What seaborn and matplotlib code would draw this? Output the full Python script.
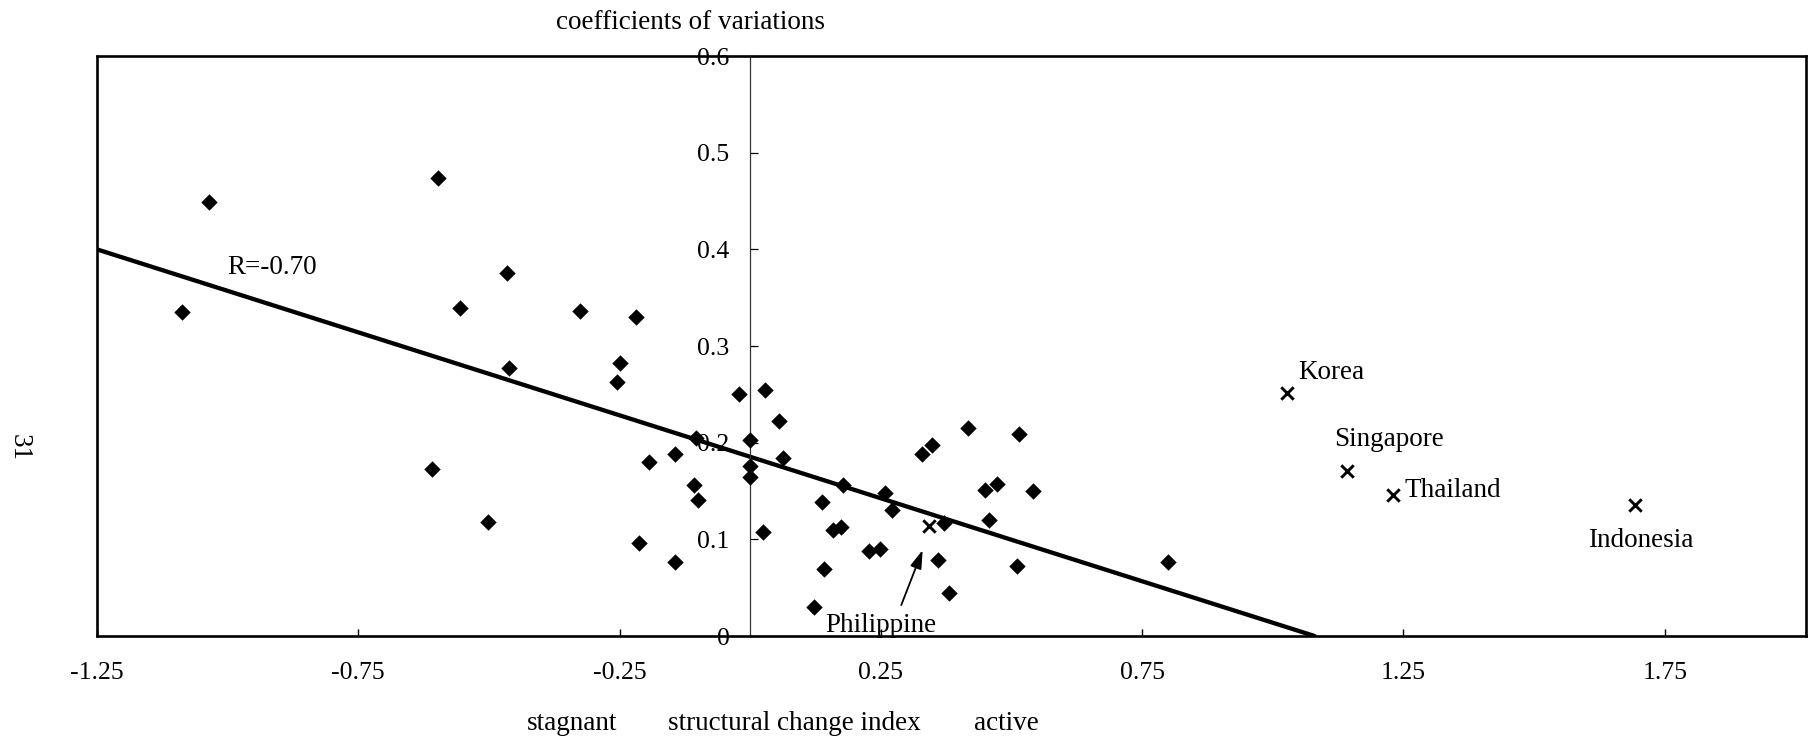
import matplotlib
matplotlib.use("Agg")
import matplotlib.pyplot as plt
import seaborn as sns

# ---------------- data ----------------
# economies plotted as diamonds: structural change index vs coefficient of variation
other_x = [-1.088, -1.035, -0.597, -0.556, -0.465, -0.462, -0.326, -0.219, -0.250, -0.254,
           -0.608, -0.501, -0.212, -0.143, -0.194, -0.143, -0.103, -0.107, -0.099, -0.021,
           0.028, 0.000, 0.000, 0.000, 0.024, 0.056, 0.062, 0.137, 0.178, 0.158,
           0.173, 0.142, 0.123, 0.227, 0.249, 0.257, 0.271, 0.328, 0.348, 0.416,
           0.370, 0.360, 0.380, 0.450, 0.472, 0.514, 0.542, 0.456, 0.510, 0.800]
other_y = [0.335, 0.449, 0.474, 0.339, 0.376, 0.277, 0.336, 0.330, 0.282, 0.263,
           0.173, 0.118, 0.096, 0.077, 0.180, 0.188, 0.205, 0.156, 0.141, 0.250,
           0.255, 0.203, 0.176, 0.165, 0.108, 0.222, 0.184, 0.139, 0.156, 0.110,
           0.113, 0.069, 0.030, 0.088, 0.090, 0.148, 0.130, 0.188, 0.198, 0.215,
           0.117, 0.079, 0.045, 0.151, 0.157, 0.209, 0.150, 0.120, 0.072, 0.077]

# highlighted Asian economies (x markers)
country_names = ["Philippine", "Korea", "Singapore", "Thailand", "Indonesia"]
country_x = [0.342, 1.028, 1.141, 1.230, 1.692]
country_y = [0.114, 0.251, 0.171, 0.146, 0.136]

# regression line (end points) and its correlation label
trend_x = [-1.25, 1.08]
trend_y = [0.40, 0.00]
r_label = "R=-0.70"

x_ticks = [-1.25, -0.75, -0.25, 0.25, 0.75, 1.25, 1.75]
x_tick_labels = ["-1.25", "-0.75", "-0.25", "0.25", "0.75", "1.25", "1.75"]
y_ticks = [0.0, 0.1, 0.2, 0.3, 0.4, 0.5, 0.6]
y_tick_labels = ["0", "0.1", "0.2", "0.3", "0.4", "0.5", "0.6"]

y_title = "coefficients of variations"
x_title_parts = ["stagnant", "structural change index", "active"]
page_number = "31"

# ---------------- style ----------------
sns.set_theme(style="white")
plt.rcParams["font.family"] = ["Liberation Serif", "DejaVu Serif"]
plt.rcParams["text.color"] = "black"
plt.rcParams["xtick.color"] = "black"
plt.rcParams["ytick.color"] = "black"

TXT = 19.5
TICK = 18.5

fig = plt.figure(figsize=(18.15, 7.4), dpi=100)
ax = fig.add_axes([0.0534, 0.1405, 0.9416, 0.7838])

sns.scatterplot(x=other_x, y=other_y, marker="D", s=70, color="black",
                linewidth=0, ax=ax, zorder=3, legend=False)
sns.scatterplot(x=country_x, y=country_y, marker="x", s=80, color="black",
                linewidth=2.1, ax=ax, zorder=3, legend=False)
sns.lineplot(x=trend_x, y=trend_y, color="black", linewidth=3.1, ax=ax,
             zorder=2, legend=False)

ax.set_xlim(-1.25, 2.02)
ax.set_ylim(0, 0.6)

# axes frame: y axis crossing at x = 0, box around the plot area
ax.spines["left"].set_position(("data", 0))
ax.spines["left"].set_linewidth(0.9)
ax.spines["left"].set_color("#333333")
for side in ["top", "right", "bottom"]:
    ax.spines[side].set_visible(True)
    ax.spines[side].set_linewidth(1.9)
    ax.spines[side].set_color("black")
ax.plot([0, 0], [0, 1], transform=ax.transAxes, color="black", lw=1.9,
        clip_on=False, zorder=4)

ax.set_xticks(x_ticks, x_tick_labels)
ax.set_yticks(y_ticks, y_tick_labels)
ax.tick_params(axis="x", direction="in", length=5, width=1.0, pad=19,
               labelsize=TICK, bottom=True, top=False)
ax.tick_params(axis="y", direction="in", length=6, width=0.9, pad=15,
               labelsize=TICK, left=True, right=False)
ax.grid(False)
ax.set_xlabel("")
ax.set_ylabel("")

# ---------------- labels ----------------
ax.text(-1.0, 0.375, r_label, fontsize=TXT, ha="left", va="baseline")
ax.text(1.049, 0.2655, country_names[1], fontsize=TXT, ha="left", va="baseline")
ax.text(1.222, 0.1965, country_names[2], fontsize=TXT, ha="center", va="baseline")
ax.text(1.251, 0.144, country_names[3], fontsize=TXT, ha="left", va="baseline")
ax.text(1.704, 0.092, country_names[4], fontsize=TXT, ha="center", va="baseline")
ax.text(0.249, 0.0045, country_names[0], fontsize=TXT, ha="center", va="baseline")
ax.annotate("", xy=(0.330, 0.089), xytext=(0.289, 0.032),
            arrowprops=dict(arrowstyle="-|>,head_length=0.8,head_width=0.25",
                            color="black", lw=1.3, mutation_scale=14,
                            shrinkA=0, shrinkB=0))

fig.text(691 / 1815, 1 - 29 / 740, y_title, fontsize=TXT, ha="center", va="baseline")
fig.text(572 / 1815, 1 - 730 / 740, x_title_parts[0], fontsize=TXT, ha="center", va="baseline")
fig.text(794 / 1815, 1 - 730 / 740, x_title_parts[1], fontsize=TXT, ha="center", va="baseline")
fig.text(1006 / 1815, 1 - 730 / 740, x_title_parts[2], fontsize=TXT, ha="center", va="baseline")
fig.text(19 / 1815, 1 - 447 / 740, page_number, fontsize=TXT, rotation=-90,
         ha="center", va="center")

fig.savefig("out.png", dpi=100)
